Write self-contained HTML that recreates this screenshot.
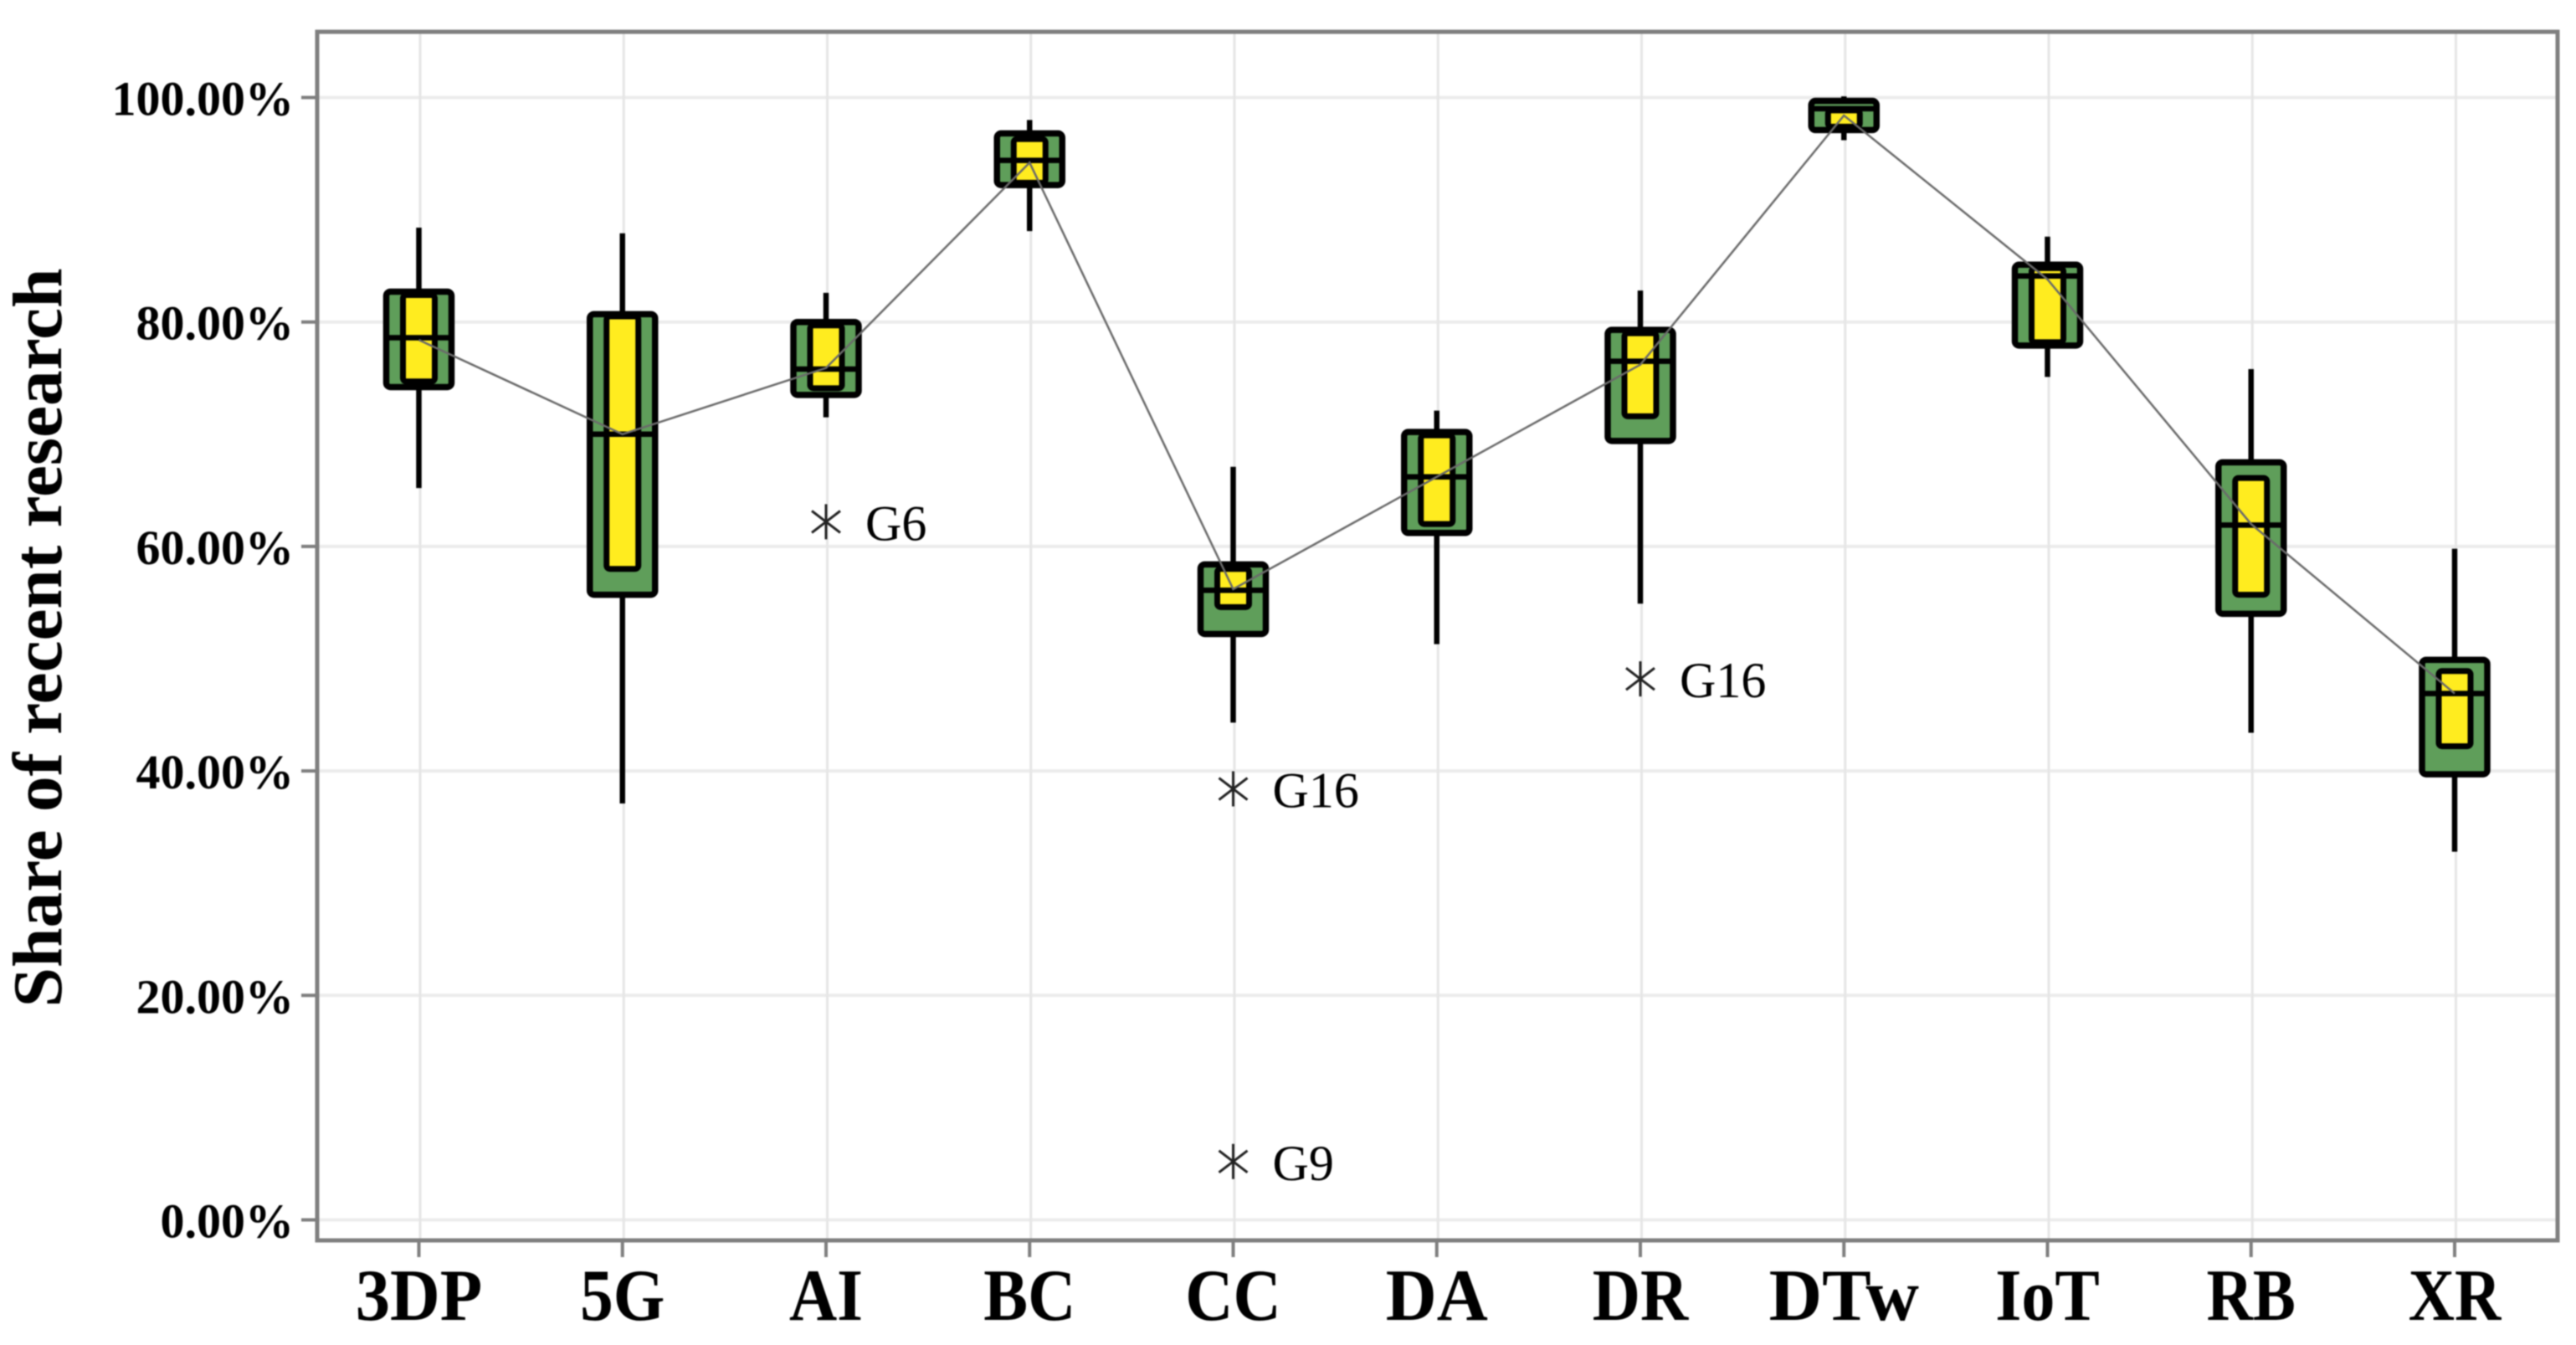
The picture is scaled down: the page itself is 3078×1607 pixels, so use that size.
<!DOCTYPE html>
<html lang="en">
<head>
<meta charset="utf-8">
<title>Share of recent research box plot</title>
<style>
  html, body { margin: 0; padding: 0; background: #fff; width: 3078px; height: 1607px; overflow: hidden; }
  svg { display: block; filter: blur(0.8px); }
  text { font-family: "Liberation Serif", serif; fill: #000; }
</style>
</head>
<body>
<svg id="chart" xmlns="http://www.w3.org/2000/svg" width="3078" height="1607" viewBox="0 0 3078 1607">
  <rect x="0" y="0" width="3078" height="1607" fill="#ffffff"></rect>
  <text transform="translate(73,762) rotate(-90)" text-anchor="middle" font-size="84" font-weight="bold" textLength="883" lengthAdjust="spacingAndGlyphs">Share of recent research</text>
</svg>
<script>
const categories = ['3DP', '5G', 'AI', 'BC', 'CC', 'DA', 'DR', 'DTw', 'IoT', 'RB', 'XR'];
const whiskerHigh = [88.4, 87.9, 82.6, 98.0, 67.1, 72.1, 82.8, 100.1, 87.6, 75.8, 59.8];
const boxHigh = [82.7, 80.7, 80.0, 96.8, 58.4, 70.2, 79.3, 99.7, 85.1, 67.5, 49.9];
const innerHigh = [82.4, 80.5, 79.7, 96.3, 58.0, 69.9, 79.0, 98.85, 84.8, 66.1, 48.9];
const medians = [78.6, 70.0, 75.8, 94.4, 56.1, 66.2, 76.5, 99.0, 84.1, 61.9, 46.9];
const innerLow = [74.7, 58.0, 74.1, 92.4, 54.6, 62.0, 71.6, 97.4, 78.2, 55.7, 42.2];
const boxLow = [74.2, 55.7, 73.5, 92.2, 52.2, 61.2, 69.4, 97.1, 77.9, 54.0, 39.7];
const whiskerLow = [65.2, 37.1, 71.5, 88.1, 44.3, 51.3, 54.9, 96.2, 75.1, 43.4, 32.8];
const lineValues = [78.4, 70.0, 75.9, 94.2, 56.2, 66.2, 76.2, 98.4, 83.8, 62.0, 46.9];
const yTicks = [0, 20, 40, 60, 80, 100];
const yTickLabels = ['0.00%', '20.00%', '40.00%', '60.00%', '80.00%', '100.00%'];
const outlierCategories = ['AI', 'CC', 'CC', 'DR'];
const outlierValues = [62.2, 38.4, 5.2, 48.2];
const outlierLabels = ['G6', 'G16', 'G9', 'G16'];

const NS = 'http://www.w3.org/2000/svg';
const svg = document.getElementById('chart');
const xScale = function (i) { return 500.5 + 243.25 * i; };
const yScale = function (v) { return 1457.5 - 13.41 * v; };
const plot = { left: 379, right: 3056, top: 38, bottom: 1482 };
const labelStretchDefault = 0.87;
const labelStretchByName = { '3DP': 0.94, 'DTw': 1.0, 'DA': 0.96, 'IoT': 0.91, 'CC': 0.9, 'DR': 0.9, '5G': 0.9, 'AI': 0.9, 'BC': 0.9 };

function make(tag, attrs) {
  const node = document.createElementNS(NS, tag);
  Object.keys(attrs).forEach(function (k) { node.setAttribute(k, attrs[k]); });
  svg.appendChild(node);
  return node;
}

/* Gridlines */
yTicks.forEach(function (t) {
  const el = make('line', { x1: plot.left, x2: plot.right, y1: yScale(t), y2: yScale(t), stroke: '#ececec', 'stroke-width': 4 });
  
  
});
categories.forEach(function (c, i) {
  const el = make('line', { x1: xScale(i) + 1.5, x2: xScale(i) + 1.5, y1: plot.top, y2: plot.bottom, stroke: '#e6e6e6', 'stroke-width': 3 });
  
  
});

/* Panel border */
const panel = make('rect', { x: plot.left, y: plot.top, width: plot.right - plot.left, height: plot.bottom - plot.top, fill: 'none', stroke: '#7f7f7f', 'stroke-width': 5 });



/* Y axis ticks and labels */
yTicks.forEach(function (t, i) {
  const tick = make('line', { x1: 360, x2: plot.left, y1: yScale(t), y2: yScale(t), stroke: '#7f7f7f', 'stroke-width': 4 });
  
  
  const label = make('text', { x: 351, y: yScale(t) + 21, 'text-anchor': 'end', 'font-size': 58, 'font-weight': 'bold' });
  label.textContent = yTickLabels[i];
  
  
});

/* X axis ticks and labels */
categories.forEach(function (c, i) {
  const tick = make('line', { x1: xScale(i), x2: xScale(i), y1: plot.bottom, y2: 1502, stroke: '#7f7f7f', 'stroke-width': 4 });
  
  
  const stretch = labelStretchByName[c] || labelStretchDefault;
  const label = make('text', { transform: 'translate(' + xScale(i) + ',1577) scale(' + stretch + ',1)', 'text-anchor': 'middle', 'font-size': 88, 'font-weight': 'bold' });
  label.textContent = c;
  
  
});

/* Box plot marks */
categories.forEach(function (c, i) {
  const cx = xScale(i);
  const whisker = make('line', { x1: cx, x2: cx, y1: yScale(whiskerHigh[i]), y2: yScale(whiskerLow[i]), stroke: '#000', 'stroke-width': 6.5 });
  
  

  const outer = make('rect', { x: cx - 39, width: 78, y: yScale(boxHigh[i]), height: yScale(boxLow[i]) - yScale(boxHigh[i]), rx: 5, ry: 5, fill: '#5f9e5a', stroke: '#000', 'stroke-width': 7.5 });
  
  

  const inner = make('rect', { x: cx - 19, width: 38, y: yScale(innerHigh[i]), height: yScale(innerLow[i]) - yScale(innerHigh[i]), rx: 4, ry: 4, fill: '#ffec1f', stroke: '#000', 'stroke-width': 7 });
  
  

  const median = make('line', { x1: cx - 39, x2: cx + 39, y1: yScale(medians[i]), y2: yScale(medians[i]), stroke: '#000', 'stroke-width': 6.5 });
  
  
});

/* Connecting line */
const linePoints = categories.map(function (c, i) { return xScale(i) + ',' + yScale(lineValues[i]); }).join(' ');
const connector = make('polyline', { points: linePoints, fill: 'none', stroke: '#6a6a6a', 'stroke-width': 2.5 });



/* Outliers */
outlierValues.forEach(function (v, i) {
  const cx = xScale(categories.indexOf(outlierCategories[i]));
  const cy = yScale(v);
  const star = make('path', {
    d: 'M' + cx + ' ' + (cy - 21) + 'V' + (cy + 21) +
       'M' + (cx - 17) + ' ' + (cy - 13) + 'L' + (cx + 17) + ' ' + (cy + 13) +
       'M' + (cx - 17) + ' ' + (cy + 13) + 'L' + (cx + 17) + ' ' + (cy - 13),
    fill: 'none', stroke: '#222', 'stroke-width': 3
  });
  
  
  const label = make('text', { x: cx + 47, y: cy + 22, 'font-size': 60, fill: '#111' });
  label.textContent = outlierLabels[i];
  
  
});
</script>
</body>
</html>
